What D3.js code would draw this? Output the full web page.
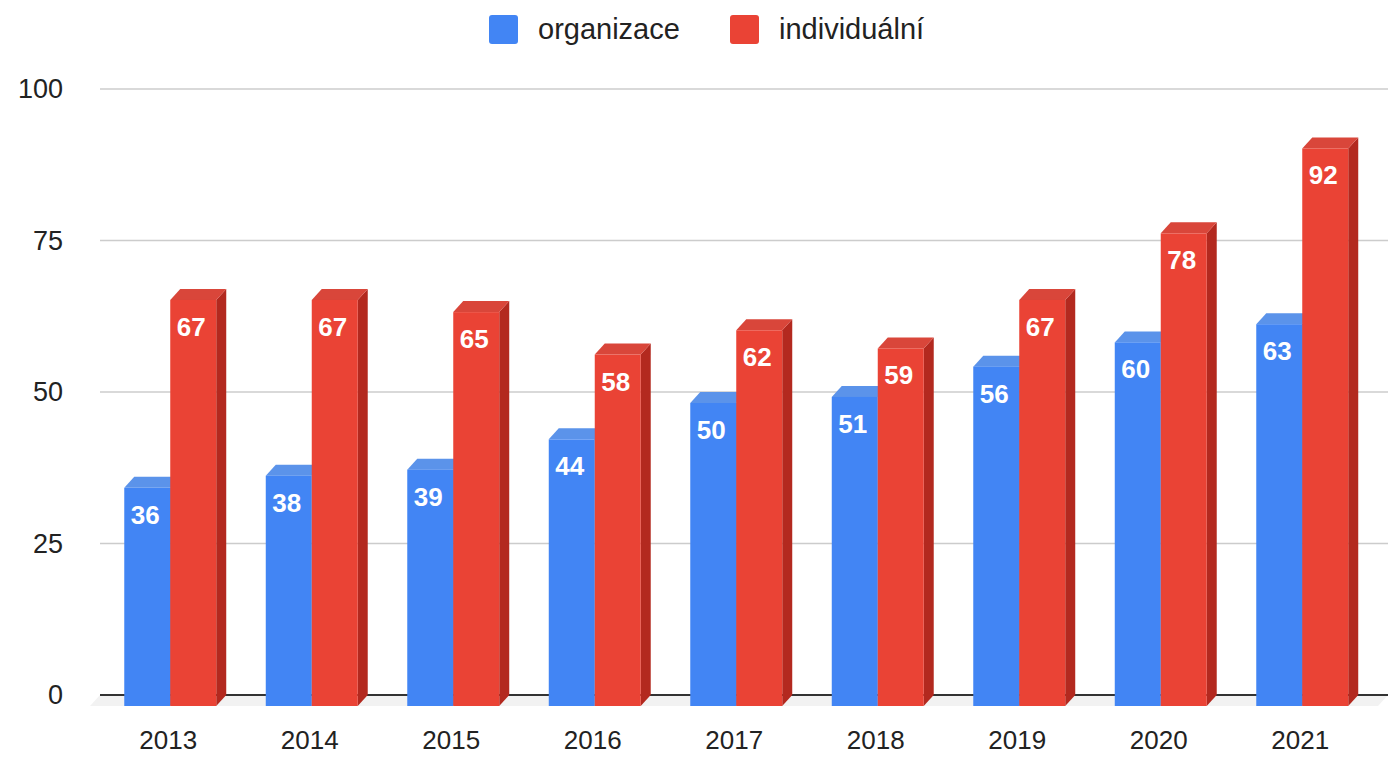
<!DOCTYPE html>
<html>
<head>
<meta charset="utf-8">
<script src="https://cdn.jsdelivr.net/npm/d3@7"></script>
<style>
  body { margin: 0; background: #fff; }
  text { font-family: Arial, "Liberation Sans", sans-serif; }
</style>
</head>
<body>
<div id="container"></div>
<script>
const years = ['2013', '2014', '2015', '2016', '2017', '2018', '2019', '2020', '2021'];
const organizace = [36, 38, 39, 44, 50, 51, 56, 60, 63];
const individualni = [67, 67, 65, 58, 62, 59, 67, 78, 92];
const seriesNames = ['organizace', 'individuální'];
const yTicks = [0, 25, 50, 75, 100];

const width = 1388, height = 757;
const depthX = 10, depthY = 11;   // 3D offset of the front face from the back plane
const colors = {
    front: ['#4285f4', '#ea4335'],
    top:   ['#5b93ea', '#d9463a'],
    side:  ['#2f68c8', '#b3291f']
};

const svg = d3.select('#container')
    .append('svg').attr('width', width).attr('height', height);

const yScale = d3.scaleLinear().domain([0, 100]).range([695, 89]);
const xScale = d3.scaleBand().domain(years).range([99.5, 1373]).paddingInner(0.35).paddingOuter(0.175);
const xSub = d3.scaleBand().domain([0, 1]).range([0, xScale.bandwidth()]);

// gridlines
svg.append('g').selectAll('line').data(yTicks.filter(d => d > 0)).join('line')
    .attr('x1', 100).attr('x2', width)
    .attr('y1', d => yScale(d)).attr('y2', d => yScale(d))
    .attr('stroke', '#cccccc').attr('stroke-width', 1.5);

// y tick labels
svg.append('g').selectAll('text').data(yTicks).join('text')
    .attr('x', 63).attr('y', d => yScale(d) + 9)
    .attr('text-anchor', 'end')
    .attr('font-size', 27).attr('fill', '#222')
    .text(d => d);

// floor shading
svg.append('path')
    .attr('d', `M100,${yScale(0)} L${width},${yScale(0)} L${width - depthX},${yScale(0) + depthY} L${100 - depthX},${yScale(0) + depthY} Z`)
    .attr('fill', '#f2f2f2');

// baseline
svg.append('line')
    .attr('x1', 100).attr('x2', width)
    .attr('y1', yScale(0)).attr('y2', yScale(0))
    .attr('stroke', '#333').attr('stroke-width', 2);

const data = [organizace, individualni];
const bars = [];
years.forEach((yr, i) => {
    data.forEach((vals, s) => {
        bars.push({ year: yr, s: s, v: vals[i] });
    });
});

const g = svg.append('g');
bars.forEach(b => {
    const x0 = xScale(b.year) + xSub(b.s);
    const x1 = x0 + xSub.bandwidth();
    const yTop = yScale(b.v) + depthY;
    const yBot = yScale(0) + depthY;
    const grp = g.append('g');
    // side face
    grp.append('path')
        .attr('d', `M${x1},${yTop} L${x1 + depthX},${yTop - depthY} L${x1 + depthX},${yBot - depthY} L${x1},${yBot} Z`)
        .attr('fill', colors.side[b.s]);
    // top face
    grp.append('path')
        .attr('d', `M${x0},${yTop} L${x0 + depthX},${yTop - depthY} L${x1 + depthX},${yTop - depthY} L${x1},${yTop} Z`)
        .attr('fill', colors.top[b.s]);
    // front face
    grp.append('rect')
        .attr('x', x0).attr('y', yTop)
        .attr('width', xSub.bandwidth()).attr('height', yBot - yTop)
        .attr('fill', colors.front[b.s]);
    // value label
    grp.append('text')
        .attr('x', (x0 + x1) / 2 - 2).attr('y', yTop + 36)
        .attr('text-anchor', 'middle')
        .attr('font-size', 26).attr('font-weight', 'bold')
        .attr('fill', '#fff')
        .text(b.v);
});

// x labels
svg.append('g').selectAll('text').data(years).join('text')
    .attr('x', d => xScale(d) + xScale.bandwidth() / 2 - 2)
    .attr('y', 749)
    .attr('text-anchor', 'middle')
    .attr('font-size', 26).attr('fill', '#222')
    .text(d => d);

// legend
const legendX = [489, 730];
const legend = svg.append('g').selectAll('g').data(seriesNames).join('g')
    .attr('transform', (d, i) => `translate(${legendX[i]},15)`);
legend.append('rect')
    .attr('width', 29).attr('height', 29).attr('rx', 3)
    .attr('fill', (d, i) => colors.front[i]);
legend.append('text')
    .attr('x', 49).attr('y', 24)
    .attr('font-size', 29).attr('fill', '#222')
    .text(d => d);
</script>
</body>
</html>
